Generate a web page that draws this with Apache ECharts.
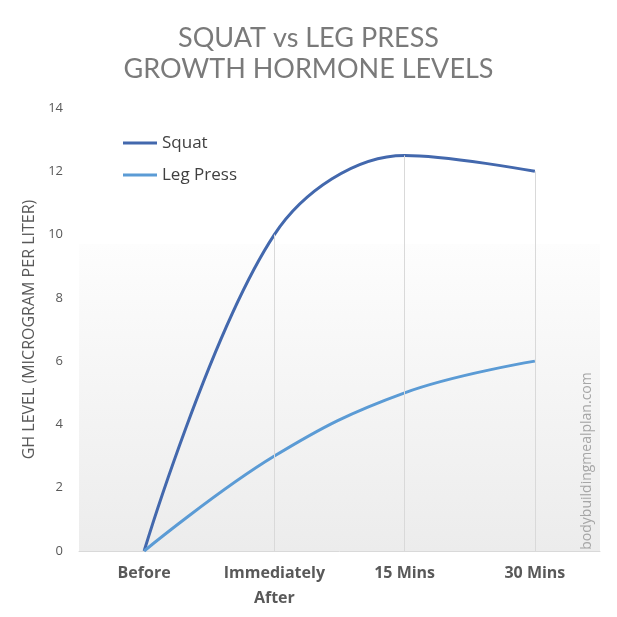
<!DOCTYPE html>
<html>
<head>
<meta charset="utf-8">
<script src="https://cdn.jsdelivr.net/npm/echarts@6/dist/echarts.min.js"></script>
<style>
  html, body { margin: 0; padding: 0; background: #fff; }
  #chart { width: 617px; height: 617px; }
</style>
</head>
<body>
<div id="chart"></div>
<script>
// Squat vs Leg Press, growth hormone levels
const categories = ["Before", "Immediately\nAfter", "15 Mins", "30 Mins"]
const squat = [0, 10, 12.5, 12]
const legPress = [0, 3, 5, 6]
const yTicks = [0, 2, 4, 6, 8, 10, 12, 14]

const chart = echarts.init(document.getElementById("chart"))

// drop lines from each squat point down to the axis
const dropLines = squat
    .map((v, i) => [{ coord: [i, 0] }, { coord: [i, v] }])
    .filter(d => d[1].coord[1] > 0)

const option = {
    animation: false,
    title: {
        text: "SQUAT vs LEG PRESS\nGROWTH HORMONE LEVELS",
        left: "center",
        top: 18,
        textStyle: {
            fontFamily: "Lato",
            fontWeight: "normal",
            fontSize: 27,
            lineHeight: 31,
            color: "#7a7a7a",
        },
    },
    legend: {
        data: ["Squat", "Leg Press"],
        orient: "vertical",
        left: 123,
        top: 133,
        padding: 0,
        itemWidth: 34,
        itemHeight: 3,
        itemGap: 12,
        icon: "rect",
        textStyle: {
            fontFamily: "Open Sans",
            fontSize: 17,
            lineHeight: 20,
            color: "#404040",
        },
    },
    grid: {
        left: 79,
        right: 17,
        top: 108,
        bottom: 66,
    },
    xAxis: {
        type: "category",
        data: categories,
        boundaryGap: true,
        axisTick: { show: false },
        axisLine: { lineStyle: { color: "#d9d9d9", width: 1 } },
        axisLabel: {
            interval: 0,
            margin: 10,
            fontFamily: "Open Sans",
            fontWeight: "bold",
            fontSize: 16,
            lineHeight: 25,
            color: "#595959",
        },
    },
    yAxis: {
        type: "value",
        min: yTicks[0],
        max: yTicks[yTicks.length - 1],
        interval: 2,
        name: "GH LEVEL (MICROGRAM PER LITER)",
        nameLocation: "middle",
        nameGap: 38,
        nameTextStyle: {
            fontFamily: "Open Sans",
            fontSize: 16,
            color: "#595959",
        },
        splitLine: { show: false },
        axisLine: { show: false },
        axisTick: { show: false },
        axisLabel: {
            margin: 16,
            fontFamily: "Open Sans",
            fontSize: 13,
            color: "#595959",
        },
    },
    series: [
        {
            name: "Squat",
            type: "line",
            data: squat,
            smooth: 0.35,
            showSymbol: false,
            lineStyle: { color: "#4368ad", width: 3 },
            itemStyle: { color: "#4368ad" },
            z: 3,
            markArea: {
                silent: true,
                itemStyle: {
                    color: new echarts.graphic.LinearGradient(0, 0, 0, 1, [
                        { offset: 0, color: "#fdfdfd" },
                        { offset: 1, color: "#ececec" },
                    ]),
                },
                data: [[{ yAxis: 9.7 }, { yAxis: 0 }]],
            },
            markLine: {
                silent: true,
                symbol: "none",
                label: { show: false },
                lineStyle: { color: "#d9d9d9", width: 1, type: "solid" },
                data: dropLines,
            },
        },
        {
            name: "Leg Press",
            type: "line",
            data: legPress,
            smooth: 0.4,
            showSymbol: false,
            lineStyle: { color: "#5b9bd5", width: 3 },
            itemStyle: { color: "#5b9bd5" },
            z: 3,
        },
    ],
    graphic: [
        {
            type: "text",
            x: 587,
            y: 461,
            rotation: Math.PI / 2,
            z: 10,
            style: {
                text: "bodybuildingmealplan.com",
                font: "14px 'Open Sans'",
                fill: "#a6a6a6",
                align: "center",
                verticalAlign: "middle",
            },
        },
    ],
}

chart.setOption(option)

window.addEventListener("resize", () => {
    chart.resize()
})
</script>
</body>
</html>
